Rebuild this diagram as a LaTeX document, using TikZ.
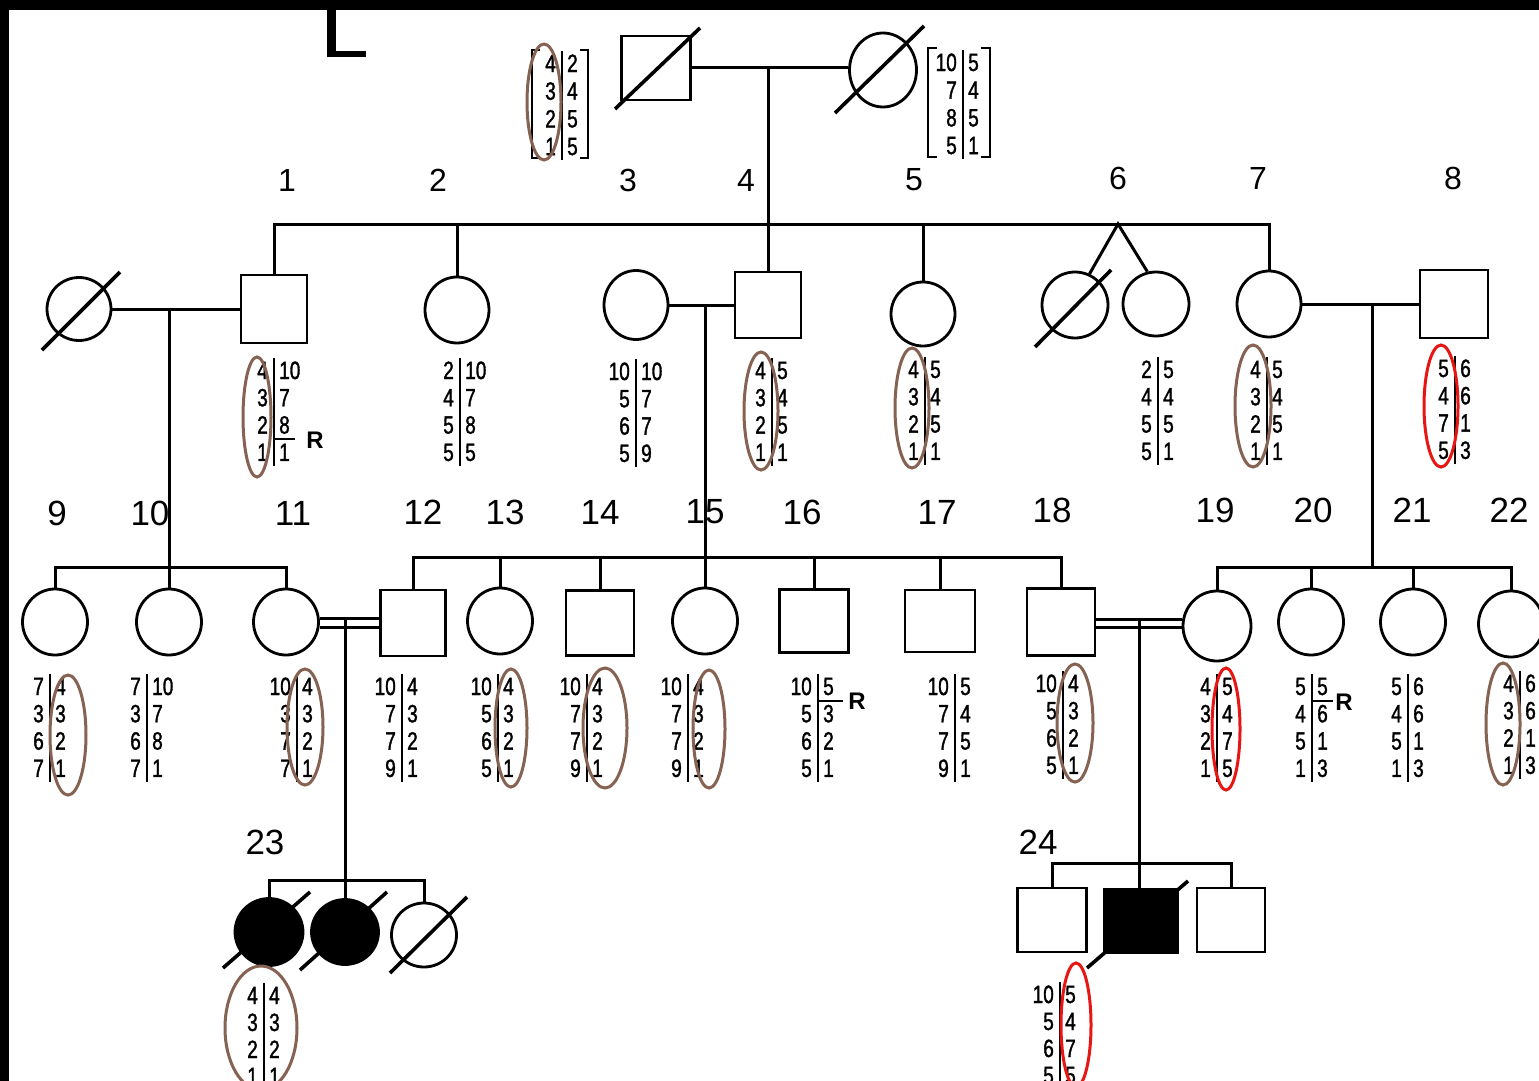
\documentclass[tikz,border=0pt]{standalone}
\usepackage{fontspec}
\setmainfont{Liberation Sans}
\newfontfamily\alfont[FakeStretch=0.76,FakeBold=1.3]{Liberation Sans}
\usetikzlibrary{shapes.geometric,calc}
\definecolor{ringbrown}{RGB}{133,98,82}
\definecolor{ringred}{RGB}{232,22,18}

\newcommand\pedtab[5]{%
  \foreach \aL/\aR [count=\i from 0] in {#5} {
    \node[al,anchor=east] (#1l\i) at ({#2-6},{#3+#4*\i}) {\aL};
    \node[al,anchor=west] (#1r\i) at ({#2+5},{#3+#4*\i}) {\aR};
  }
  \draw[bar] (#2,{#3-12}) -- (#2,{#3+3*#4+14});
}

\tikzset{
  ped/.style={line width=3pt},
  fem/.style={draw,ellipse,line width=2.8pt,minimum width=65pt,minimum height=66pt,inner sep=0pt},
  mal/.style={draw,rectangle,line width=2.8pt,minimum width=68pt,minimum height=65pt,inner sep=0pt},
  dead/.style={line width=3.6pt},
  lab/.style={font=\fontsize{32}{32}\selectfont,inner sep=0pt},
  labb/.style={font=\fontsize{35}{35}\selectfont,inner sep=0pt},
  al/.style={font=\alfont\fontsize{25}{25}\selectfont,inner sep=0pt,text height=18pt,text depth=0pt},
  rlab/.style={font=\bfseries\fontsize{24}{24}\selectfont,inner sep=0pt},
  bar/.style={line width=2.8pt},
  brownring/.style={draw=ringbrown,line width=3pt},
  redring/.style={draw=ringred,line width=3pt},
}

\begin{document}
\begin{tikzpicture}[x=1pt,y=-1pt]
\useasboundingbox (0,0) rectangle (1539,1081);
\clip (0,0) rectangle (1539,1081);
\fill[white] (0,0) rectangle (1539,1081);
\fill[black] (0,0) rectangle (1539,10);
\fill[black] (0,0) rectangle (9,1081);
\fill[black] (327,9) rectangle (336,57);
\fill[black] (327,51) rectangle (366,57);

% ---------- Generation I ----------
\node[mal,minimum width=69pt,minimum height=64pt] (I1) at (656,68) {};
\node[fem,minimum width=67pt,minimum height=74pt] (I2) at (883,70) {};
\draw[dead] ($(I1.center)+(-41,41)$) -- ($(I1.center)+(44,-40)$);
\draw[dead] ($(I2.center)+(-48,43)$) -- ($(I2.center)+(41,-44)$);
\coordinate (m1) at (768,68);
\coordinate (s1) at (768,224);
\draw[ped] (I1.east) -- (I1.east -| I2.west);

% brackets
\draw[bar] (540,50) -- (532,50) -- (532,158) -- (540,158);
\draw[bar] (580,50) -- (588,50) -- (588,158) -- (580,158);
\draw[bar] (937,48) -- (928,48) -- (928,157) -- (937,157);
\draw[bar] (981,48) -- (990,48) -- (990,157) -- (981,157);
\pedtab{ta}{562}{63}{27.7}{4/2,3/4,2/5,1/5}
\pedtab{tb}{963}{62}{27.7}{10/5,7/4,8/5,5/1}

% ---------- Generation II ----------
\node[fem,minimum width=64pt,minimum height=63pt] (IIa) at (79,309) {};
\draw[dead] ($(IIa.center)+(-37,41)$) -- ($(IIa.center)+(41,-37)$);
\node[mal,minimum width=66pt,minimum height=68pt] (II1) at (274,309) {};
\node[fem,minimum width=64pt,minimum height=66pt] (II2) at (457,310) {};
\node[fem,minimum width=64pt,minimum height=69pt] (II3) at (636,305) {};
\node[mal,minimum width=66pt,minimum height=66pt] (II4) at (768,305) {};
\node[fem,minimum width=64pt,minimum height=64pt] (II5) at (923,314) {};
\node[fem,minimum width=66pt,minimum height=66pt] (II6a) at (1075,305) {};
\draw[dead] ($(II6a.center)+(-40,42)$) -- ($(II6a.center)+(36,-35)$);
\node[fem,minimum width=66pt,minimum height=64pt] (II6b) at (1156,304) {};
\node[fem,minimum width=64pt,minimum height=66pt] (II7) at (1269,304) {};
\node[mal,minimum width=68pt,minimum height=68pt] (II8) at (1454,304) {};

\draw[ped] (m1) -- (II4.north);
\draw[ped] (II1.north) |- (s1) -| (II7.north);
\draw[ped] (II2.north) -- (II2.north |- s1);
\draw[ped] (II5.north) -- (II5.north |- s1);
\coordinate (tw) at (1118,224);
\draw[ped] (II6a.65) -- (tw) -- (II6b.105);

\node[lab] (L1) at (287,180) {1};
\node[lab] (L2) at (438,180) {2};
\node[lab] (L3) at (628,180) {3};
\node[lab] (L4) at (746,180) {4};
\node[lab] (L5) at (914,180) {5};
\node[lab] (L6) at (1118,178) {6};
\node[lab] (L7) at (1258,178) {7};
\node[lab] (L8) at (1453,178) {8};

\pedtab{t1}{274}{370}{27.3}{4/10,3/7,2/8,1/1}
\draw[bar] (274,439) -- (295,439);
\node[rlab] (R1) at (315,440) {R};
\pedtab{t2}{460}{370}{27.3}{2/10,4/7,5/8,5/5}
\pedtab{t3}{636}{371}{27.3}{10/10,5/7,6/7,5/9}
\pedtab{t4}{772}{370}{27.3}{4/5,3/4,2/5,1/1}
\pedtab{t5}{925}{369}{27.3}{4/5,3/4,2/5,1/1}
\pedtab{t6}{1158}{369}{27.3}{2/5,4/4,5/5,5/1}
\pedtab{t7}{1267}{369}{27.3}{4/5,3/4,2/5,1/1}
\pedtab{t8}{1455}{368}{27.3}{5/6,4/6,7/1,5/3}

% ---------- Generation III ----------
\node[fem] (III9) at (55,622) {};
\node[fem] (III10) at (169,622) {};
\node[fem] (III11) at (286,622) {};
\node[mal,minimum width=65pt,minimum height=66pt] (III12) at (413,623) {};
\node[fem] (III13) at (500,621) {};
\node[mal] (III14) at (600,623) {};
\node[fem] (III15) at (705,621) {};
\node[mal,minimum width=69pt,minimum height=63pt] (III16) at (814,621) {};
\node[mal,minimum width=70pt,minimum height=62pt] (III17) at (940,621) {};
\node[mal,minimum width=68pt,minimum height=67pt] (III18) at (1061,622) {};
\node[fem,minimum width=68pt,minimum height=70pt] (III19) at (1217,626) {};
\node[fem] (III20) at (1311,622) {};
\node[fem] (III21) at (1413,622) {};
\node[fem] (III22) at (1511,624) {};

\coordinate (d1) at (169,309);
\coordinate (s9) at (169,567);
\draw[ped] (IIa.east) -- (II1.west);
\draw[ped] (d1) -- (III10.north);
\draw[ped] (III9.north) |- (s9) -| (III11.north);

\coordinate (d2) at (705,305);
\coordinate (s12) at (705,557);
\draw[ped] (II3.east) -- (II4.west);
\draw[ped] (d2) -- (III15.north);
\draw[ped] (III12.north) |- (s12) -| (III18.north);
\foreach \n in {III13,III14,III16,III17}
  \draw[ped] (\n.north) -- (\n.north |- s12);

\coordinate (d3) at (1372,304);
\coordinate (s19) at (1372,567);
\draw[ped] (II7.east) -- (II8.west);
\draw[ped] (d3) -- (s19);
\draw[ped] (III19.north) |- (s19) -| (III22.north);
\foreach \n in {III20,III21}
  \draw[ped] (\n.north) -- (\n.north |- s19);

\node[labb] (L9) at (57,513) {9};
\node[labb] (L10) at (150,513) {10};
\node[labb] (L11) at (293,513) {11};
\node[labb] (L12) at (423,512) {12};
\node[labb] (L13) at (505,512) {13};
\node[labb] (L14) at (600,512) {14};
\node[labb] (L15) at (705,512) {15};
\node[labb] (L16) at (802,512) {16};
\node[labb] (L17) at (937,512) {17};
\node[labb] (L18) at (1052,510) {18};
\node[labb] (L19) at (1215,510) {19};
\node[labb] (L20) at (1313,510) {20};
\node[labb] (L21) at (1412,510) {21};
\node[labb] (L22) at (1509,510) {22};

\pedtab{t9}{50}{686}{27.3}{7/4,3/3,6/2,7/1}
\pedtab{t10}{147}{686}{27.3}{7/10,3/7,6/8,7/1}
\pedtab{t11}{297}{686}{27.3}{10/4,3/3,7/2,7/1}
\pedtab{t12}{402}{686}{27.3}{10/4,7/3,7/2,9/1}
\pedtab{t13}{498}{686}{27.3}{10/4,5/3,6/2,5/1}
\pedtab{t14}{587}{686}{27.3}{10/4,7/3,7/2,9/1}
\pedtab{t15}{688}{686}{27.3}{10/4,7/3,7/2,9/1}
\pedtab{t16}{818}{686}{27.3}{10/5,5/3,6/2,5/1}
\draw[bar] (818,701) -- (843,701);
\node[rlab] (R16) at (857,701) {R};
\pedtab{t17}{955}{686}{27.3}{10/5,7/4,7/5,9/1}
\pedtab{t18}{1063}{683}{27.3}{10/4,5/3,6/2,5/1}
\pedtab{t19}{1217}{686}{27.3}{4/5,3/4,2/7,1/5}
\pedtab{t20}{1312}{686}{27.3}{5/5,4/6,5/1,1/3}
\draw[bar] (1312,701) -- (1333,701);
\node[rlab] (R20) at (1344,702) {R};
\pedtab{t21}{1408}{686}{27.3}{5/6,4/6,5/1,1/3}
\pedtab{t22}{1520}{683}{27.3}{4/6,3/6,2/1,1/3}

% ---------- Generation IV ----------
\path (III11.east) ++(0,-4) coordinate (m11a) ++(0,9) coordinate (m11b);
\draw[ped] (m11a) -- (m11a -| III12.west);
\draw[ped] (m11b) -- (m11b -| III12.west);
\node[fem,fill=black,minimum width=68pt,minimum height=67pt] (IVa) at (269,932) {};
\node[fem,fill=black,minimum width=67pt,minimum height=65pt] (IVb) at (345,932) {};
\node[fem,minimum width=65pt,minimum height=64pt] (IVc) at (424,935) {};
\draw[dead] ($(IVa.center)+(-46,36)$) -- ($(IVa.center)+(41,-40)$);
\draw[dead] ($(IVb.center)+(-45,38)$) -- ($(IVb.center)+(42,-40)$);
\draw[dead] ($(IVc.center)+(-34,38)$) -- ($(IVc.center)+(43,-38)$);
\coordinate (d4) at (345,618);
\coordinate (s23) at (345,880);
\draw[ped] (d4) -- (IVb.north);
\draw[ped] (IVa.north) |- (s23) -| (IVc.north);

\path (III18.east) ++(0,-3) coordinate (m18a) ++(0,8) coordinate (m18b);
\draw[ped] (m18a) -- (m18a -| III19.west);
\draw[ped] (m18b) -- (m18b -| III19.west);
\node[mal,minimum width=69pt,minimum height=64pt] (IVd) at (1052,920) {};
\node[mal,fill=black,minimum width=74pt,minimum height=63pt] (IVe) at (1141,921) {};
\node[mal,minimum width=68pt,minimum height=64pt] (IVf) at (1231,920) {};
\draw[dead] ($(IVe.center)+(-54,47)$) -- ($(IVe.center)+(47,-40)$);
\coordinate (d5) at (1139,619);
\coordinate (s24) at (1139,863);
\draw[ped] (d5) -- (s24) -- (s24 |- IVe.north);
\draw[ped] (IVd.north) |- (s24) -| (IVf.north);

\node[labb] (L23) at (265,842) {23};
\node[labb] (L24) at (1038,842) {24};

\pedtab{t23}{264}{995}{27}{4/4,3/3,2/2,1/1}
\pedtab{t24}{1060}{994}{27}{10/5,5/4,6/7,5/5}

% ---------- rings ----------
\draw[brownring] (544,102) ellipse [x radius=17, y radius=58];
\draw[brownring] (257,417) ellipse [x radius=14, y radius=60];
\draw[brownring] (761,411) ellipse [x radius=17, y radius=59];
\draw[brownring] (912,408) ellipse [x radius=17, y radius=60];
\draw[brownring] (1253,406) ellipse [x radius=18, y radius=61];
\draw[redring] (1441,406) ellipse [x radius=17, y radius=61];
\draw[brownring] (68,735) ellipse [x radius=18, y radius=60];
\draw[brownring] (305,727) ellipse [x radius=18, y radius=58];
\draw[brownring] (511,728) ellipse [x radius=16, y radius=59];
\draw[brownring] (605,728) ellipse [x radius=22, y radius=60];
\draw[brownring] (709,729) ellipse [x radius=16, y radius=59];
\draw[brownring] (1075,723) ellipse [x radius=18, y radius=59];
\draw[redring] (1226,729) ellipse [x radius=14, y radius=61];
\draw[brownring] (1503,724) ellipse [x radius=17, y radius=61];
\draw[brownring] (261,1028) ellipse [x radius=36, y radius=62];
\draw[redring] (1076,1025) ellipse [x radius=15, y radius=62];
\end{tikzpicture}
\end{document}
